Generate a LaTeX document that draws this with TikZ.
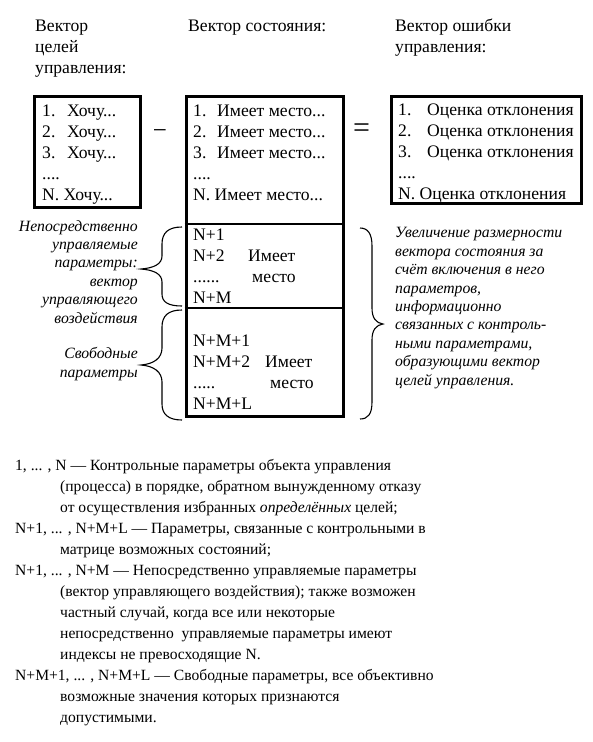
\documentclass[tikz,border=0pt]{standalone}
\usepackage{fontspec}
\setmainfont{Liberation Serif}

\newcommand{\itm}[2]{\makebox[#1][l]{#2}}

\tikzset{
	vecbox/.style={draw, line width=3pt, inner sep=0pt},
	sepline/.style={line width=1.5pt},
	curly/.style={line width=1.1pt},
	lbl/.style={anchor=base west, inner sep=0pt, align=left, font=\fontsize{17.6}{21}\selectfont},
	note/.style={inner sep=0pt, font=\fontsize{15.7}{18.4}\selectfont\itshape},
}

\begin{document}
\begin{tikzpicture}[x=1pt, y=-1pt]
	\useasboundingbox (0,0) rectangle (592,742);

	% headers (placed at the baseline of their last line)
	\node[lbl] (goals_head) at (35,73) {Вектор\\целей\\управления:};
	\node[lbl] (state_head) at (188,31) {Вектор состояния:};
	\node[lbl] (error_head) at (395,52) {Вектор ошибки\\управления:};

	\node[vecbox, minimum width=106pt, minimum height=111pt] (goals) at (87,151.5) {};
	\node[vecbox, minimum width=157pt, minimum height=320pt] (state) at (264.5,256) {};
	\node[vecbox, minimum width=190pt, minimum height=107pt] (error) at (486,149.5) {};

	\node[anchor=base, inner sep=0pt, font=\fontsize{25}{25}\selectfont] (minus) at (160,138) {−};
	\node[anchor=base, inner sep=0pt, font=\fontsize{30}{30}\selectfont] (equals) at (361.5,137.5) {=};

	\node[lbl] (goals_list) at (42,200) {\itm{25pt}{1.}Хочу...\\\itm{25pt}{2.}Хочу...\\\itm{25pt}{3.}Хочу...\\....\\N. Хочу...};
	\node[lbl] (state_list) at (193,200) {\itm{24pt}{1.}Имеет место...\\\itm{24pt}{2.}Имеет место...\\\itm{24pt}{3.}Имеет место...\\....\\N. Имеет место...};
	\node[lbl] (error_list) at (398,199) {\itm{29pt}{1.}Оценка отклонения\\\itm{29pt}{2.}Оценка отклонения\\\itm{29pt}{3.}Оценка отклонения\\....\\N. Оценка отклонения};

	% sections of the state vector
	\coordinate (sep_ctrl) at (0,224);
	\coordinate (sep_free) at (0,308);
	\draw[sepline] (state.west |- sep_ctrl) -- (state.east |- sep_ctrl);
	\draw[sepline] (state.west |- sep_free) -- (state.east |- sep_free);

	\node[lbl] (ctrl_list) at (193,303) {N+1\\\itm{55pt}{N+2}Имеет\\\itm{59pt}{......}место\\N+M};
	\node[lbl] (free_list) at (193,409) {N+M+1\\\itm{72pt}{N+M+2}Имеет\\\itm{77pt}{.....}место\\N+M+L};

	% braces
	\draw[curly] (182,227) .. controls (168,227) and (162,233) .. (162,244) -- (162,256)
		.. controls (162,264) and (154,268) .. (141,269) .. controls (154,270) and (162,274) .. (162,282)
		-- (162,294) .. controls (162,302) and (168,306) .. (182,306);
	\draw[curly] (182,310) .. controls (168,310) and (162,316) .. (162,327) -- (162,348)
		.. controls (162,358) and (154,364) .. (141,365) .. controls (154,366) and (162,372) .. (162,382)
		-- (162,404) .. controls (162,414) and (168,420) .. (182,420);
	\draw[curly] (360,228) .. controls (368,228) and (372,234) .. (372,246) -- (372,308)
		.. controls (372,318) and (376,323) .. (383,324) .. controls (376,325) and (372,330) .. (372,340)
		-- (372,402) .. controls (372,414) and (368,419) .. (360,419);

	\node[note, anchor=base east, align=right] (ctrl_note) at (138,323) {Непосредственно\\управляемые\\параметры:\\вектор\\управляющего\\воздействия};
	\node[note, anchor=base east, align=right] (free_note) at (138,377) {Свободные\\параметры};
	\node[note, anchor=base west, align=left] (extra_note) at (395,385) {Увеличение размерности\\вектора состояния за\\счёт включения в него\\параметров,\\информационно\\связанных с контроль-\\ными параметрами,\\образующими вектор\\целей управления.};

	\node[lbl, font=\fontsize{15.6}{21}\selectfont] (legend) at (15,722) {1, ... , N — Контрольные параметры объекта управления\\
		\hspace*{45pt}(процесса) в порядке, обратном вынужденному отказу\\
		\hspace*{45pt}от осуществления избранных \textit{определённых} целей;\\
		N+1, ... , N+M+L — Параметры, связанные с контрольными в\\
		\hspace*{45pt}матрице возможных состояний;\\
		N+1, ... , N+M — Непосредственно управляемые параметры\\
		\hspace*{45pt}(вектор управляющего воздействия); также возможен\\
		\hspace*{45pt}частный случай, когда все или некоторые\\
		\hspace*{45pt}непосредственно\ \ управляемые параметры имеют\\
		\hspace*{45pt}индексы не превосходящие N.\\
		N+M+1, ... , N+M+L — Свободные параметры, все объективно\\
		\hspace*{45pt}возможные значения которых признаются\\
		\hspace*{45pt}допустимыми.};
\end{tikzpicture}
\end{document}
